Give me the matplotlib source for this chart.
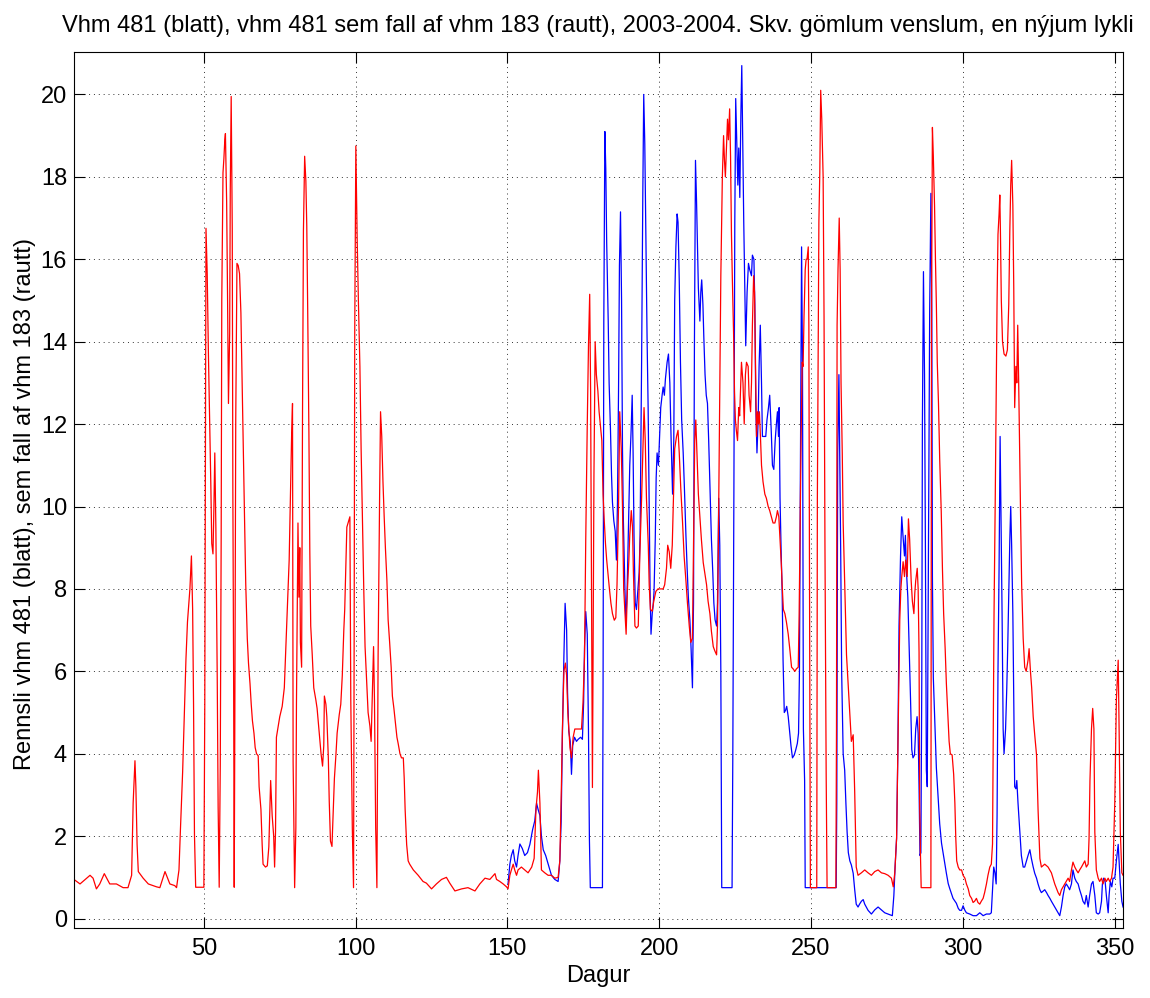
import matplotlib
matplotlib.use('Agg')
import matplotlib.pyplot as plt

plt.rcParams['font.family'] = ['Liberation Sans', 'DejaVu Sans']

# Vhm 481 sem fall af vhm 183 (rautt): (dagur, rennsli)
red_day = [7.2, 9.2, 12.5, 13.5, 14.6, 15.7, 17.2, 19.0, 21.2, 23.4, 25.0, 26.2, 26.7, 27.3, 27.6, 28.0, 28.4,
           30.0, 31.7, 34.4, 35.5, 37.2, 38.8, 40.4, 41.0, 41.8, 42.3, 43.0, 43.5, 44.1, 44.6, 45.4, 45.9, 46.3,
           46.6, 46.9, 47.3, 50.0, 50.3, 50.7, 51.1, 51.5, 52.0, 52.3, 52.6, 53.0, 53.3, 53.6, 53.95, 54.4, 54.7,
           55.05, 55.4, 55.7, 55.9, 56.3, 56.6, 56.9, 57.1, 57.5, 57.8, 58.1, 58.5, 58.7, 59.0, 59.35, 59.55,
           59.8, 60.0, 60.2, 60.5, 60.9, 61.3, 61.75, 62.2, 62.6, 63.0, 63.4, 63.8, 64.3, 64.7, 65.2, 65.6,
           66.0, 66.5, 66.9, 67.35, 67.9, 68.2, 68.8, 69.2, 69.5, 70.3, 70.9, 71.4, 72.0, 72.5, 73.0, 73.3,
           73.6, 73.9, 74.5, 75.0, 75.8, 76.5, 77.0, 77.6, 78.1, 78.5, 78.9, 79.2, 79.4, 79.9, 80.3, 80.5,
           81.0, 81.3, 81.6, 81.8, 82.2, 82.5, 82.8, 83.2, 83.6, 83.9, 84.2, 84.6, 84.9, 85.2, 85.7, 86.2,
           86.9, 87.3, 87.8, 88.2, 88.6, 89.1, 89.5, 89.7, 90.2, 90.5, 91.0, 91.3, 91.7, 92.2, 92.6, 93.0,
           93.5, 93.9, 94.6, 95.1, 95.6, 96.1, 96.4, 96.8, 97.1, 97.5, 98.1, 98.4, 98.9, 99.3, 99.5, 99.7,
           100.06, 100.5, 100.9, 101.4, 101.8, 102.3, 102.7, 103.1, 103.6, 104.1, 104.7, 105.1, 105.5, 105.9,
           106.2, 106.6, 107.0, 107.4, 107.9, 108.2, 108.6, 109.0, 109.4, 109.8, 110.3, 110.7, 111.2, 111.7,
           112.1, 112.6, 113.1, 113.6, 114.0, 114.6, 115.1, 115.7, 116.0, 116.3, 116.8, 117.3, 117.8, 119.0,
           120.6, 122.2, 123.3, 125.0, 126.6, 128.3, 129.9, 131.0, 132.7, 134.9, 137.0, 139.3, 140.9, 142.6,
           144.2, 145.9, 146.4, 147.5, 148.6, 149.7, 150.2, 150.8, 151.3, 151.9, 152.4, 153.0, 153.5, 154.6,
           155.7, 156.8, 158.0, 158.8, 159.4, 159.9, 160.2, 160.7, 161.2, 162.3, 163.4, 164.5, 165.6, 166.7,
           167.26, 167.8, 168.1, 168.6, 169.1, 169.5, 169.9, 170.6, 171.1, 171.65, 172.2, 173.3, 174.4, 174.9,
           175.4, 175.8, 176.3, 176.7, 177.1, 177.4, 177.7, 178.0, 178.5, 178.9, 179.3, 179.8, 180.2, 180.6,
           181.1, 181.5, 181.9, 182.3, 182.7, 183.2, 183.6, 184.1, 184.6, 185.2, 185.7, 186.1, 186.6, 187.0,
           187.5, 187.9, 188.3, 188.8, 189.1, 189.5, 190.0, 190.3, 190.8, 191.2, 191.5, 192.0, 192.5, 193.1,
           193.6, 194.2, 194.7, 195.0, 195.4, 195.8, 196.4, 196.7, 197.1, 197.7, 198.2, 198.9, 199.6, 200.4,
           201.3, 201.8, 202.4, 202.8, 203.3, 203.8, 204.3, 204.7, 205.1, 205.7, 206.2, 206.6, 207.1, 207.7,
           208.2, 208.8, 209.3, 209.9, 210.4, 210.95, 211.4, 211.7, 212.05, 212.5, 212.9, 213.4, 213.9, 214.5,
           215.0, 215.6, 216.1, 216.7, 217.2, 217.8, 218.3, 218.9, 219.2, 219.5, 219.85, 220.3, 220.8, 221.2,
           221.5, 221.8, 222.2, 222.5, 222.8, 223.2, 223.5, 223.8, 224.1, 224.5, 224.8, 225.1, 225.4, 225.8,
           226.2, 226.5, 227.1, 227.6, 228.0, 228.4, 228.75, 229.3, 229.6, 230.1, 230.4, 230.7, 231.1, 231.4,
           231.7, 232.05, 232.4, 232.7, 233.0, 233.4, 233.7, 234.2, 234.8, 235.3, 235.9, 236.4, 236.95, 237.5,
           238.1, 238.6, 238.95, 239.4, 239.8, 240.2, 240.5, 240.9, 241.4, 241.9, 242.5, 243.0, 243.6, 244.1,
           244.7, 245.2, 245.8, 246.1, 246.4, 246.75, 247.1, 247.4, 247.7, 248.1, 248.4, 248.7, 249.1, 249.3,
           249.5, 249.8, 251.9, 252.1, 252.6, 252.9, 253.2, 253.55, 254.0, 254.3, 254.6, 255.0, 255.3, 258.2,
           258.4, 258.6, 258.9, 259.3, 259.6, 259.9, 260.3, 260.6, 261.0, 261.3, 261.7, 262.3, 262.8, 263.3,
           263.9, 264.4, 264.9, 265.5, 266.6, 267.7, 268.8, 269.9, 271.0, 272.1, 273.2, 274.3, 275.4, 276.5,
           277.1, 277.6, 278.2, 278.6, 279.0, 279.25, 279.6, 279.9, 280.35, 280.8, 281.2, 281.7, 282.1, 282.5,
           283.0, 283.4, 283.9, 284.2, 284.5, 285.0, 285.3, 285.6, 285.8, 286.05, 286.3, 289.5, 289.7, 290.0,
           290.3, 290.7, 291.0, 291.3, 291.6, 292.0, 292.4, 292.9, 293.3, 293.7, 294.2, 294.6, 295.1, 295.5,
           295.9, 296.5, 297.0, 297.4, 297.7, 298.0, 298.5, 299.0, 299.6, 300.1, 300.7, 301.2, 301.8, 302.3,
           302.9, 303.4, 303.9, 304.5, 305.0, 305.6, 306.1, 306.7, 307.2, 307.8, 308.3, 308.9, 309.4, 309.8,
           310.0, 310.3, 310.7, 311.0, 311.3, 311.6, 311.96, 312.2, 312.4, 312.7, 313.1, 313.6, 314.2, 314.7,
           315.15, 315.5, 315.8, 316.1, 316.5, 316.8, 317.1, 317.5, 317.8, 318.1, 318.4, 318.8, 319.1, 319.4,
           319.9, 320.4, 320.9, 321.5, 321.85, 322.3, 322.7, 323.2, 323.7, 324.3, 324.8, 325.4, 325.9, 327.0,
           328.1, 329.2, 330.3, 331.4, 331.95, 332.5, 333.6, 334.7, 335.2, 335.8, 336.3, 336.9, 337.4, 338.0,
           338.5, 339.1, 339.6, 340.2, 340.7, 341.3, 341.6, 341.9, 342.4, 342.8, 343.2, 343.5, 344.0, 344.6,
           345.1, 345.7, 346.2, 346.8, 347.3, 347.9, 348.4, 349.0, 349.5, 350.07, 350.6, 351.2, 351.5, 351.9,
           352.4, 352.8]
red_q = [0.95, 0.84, 1.05, 0.98, 0.72, 0.84, 1.09, 0.84, 0.84, 0.75, 0.75, 1.05, 2.8, 3.83, 3.2, 1.8, 1.14,
         0.98, 0.84, 0.77, 0.75, 1.14, 0.84, 0.8, 0.75, 1.18, 2.2, 3.55, 4.8, 6.3, 7.2, 8.0, 8.8, 7.5,
         5.2, 2.05, 0.76, 0.76, 5.2, 16.75, 15.65, 13.7, 11.7, 10.5, 9.1, 8.85, 9.95, 11.3, 9.5, 5.85, 2.7,
         0.76, 3.7, 9.25, 15.0, 18.1, 18.45, 18.9, 19.05, 17.4, 15.1, 12.5, 14.2, 17.7, 19.95, 16.75, 10.35,
         5.85, 0.76, 4.9, 12.1, 15.9, 15.85, 15.65, 14.7, 13.0, 11.3, 9.7, 8.1, 6.8, 6.2, 5.7, 5.2,
         4.8, 4.5, 4.15, 4.0, 3.95, 3.2, 2.65, 1.8, 1.32, 1.25, 1.28, 1.74, 3.35, 2.5, 2.0, 1.25,
         2.1, 4.4, 4.67, 4.9, 5.15, 5.6, 6.55, 7.7, 8.7, 10.2, 11.7, 12.5, 3.8, 0.75, 2.2, 5.2,
         9.6, 7.8, 9.0, 6.7, 6.1, 12.3, 16.7, 18.5, 17.9, 16.8, 14.8, 11.8, 8.9, 7.1, 6.4, 5.6,
         5.3, 5.1, 4.67, 4.3, 4.0, 3.7, 4.2, 5.4, 5.2, 4.9, 3.9, 2.85, 1.88, 1.75, 2.6, 3.4,
         3.97, 4.5, 4.95, 5.2, 5.9, 7.0, 7.5, 8.6, 9.5, 9.6, 9.75, 5.3, 2.2, 0.75, 6.55, 14.2,
         18.75, 16.5, 15.0, 13.4, 11.4, 9.5, 7.9, 6.6, 5.8, 5.0, 4.67, 4.3, 5.4, 6.6,
         5.3, 2.2, 0.75, 6.4, 10.3, 12.3, 11.7, 10.6, 9.75, 9.0, 8.2, 7.25, 6.7, 6.1,
         5.4, 5.1, 4.74, 4.4, 4.25, 4.0, 3.9, 3.9, 3.4, 2.65, 1.8, 1.4, 1.32, 1.18,
         1.05, 0.9, 0.86, 0.72, 0.84, 0.95, 1.0, 0.86, 0.67, 0.72, 0.75, 0.67, 0.84, 0.98,
         0.95, 1.09, 0.95, 0.9, 0.84, 0.77, 0.72, 1.05, 1.18, 1.32, 1.18, 1.05, 1.18, 1.25,
         1.18, 1.11, 1.25, 1.46, 2.65, 3.07, 3.6, 2.8, 1.18, 1.11, 1.05, 1.05, 0.98, 1.0,
         1.4, 3.3, 4.55, 6.0, 6.2, 5.9, 5.0, 4.15, 3.9, 4.4, 4.6, 4.6, 4.6, 5.25,
         6.35, 9.2, 12.0, 13.9, 15.15, 12.8, 7.86, 3.18, 10.75, 14.0, 13.2, 12.8, 12.3, 12.0,
         11.6, 10.3, 9.65, 9.1, 8.7, 8.3, 8.0, 7.65, 7.4, 7.24, 7.3, 8.1, 10.0, 12.3,
         11.4, 10.0, 8.0, 7.3, 6.9, 7.94, 8.7, 9.3, 9.9, 9.5, 8.4, 7.1, 7.05, 7.1,
         8.8, 10.2, 11.6, 12.4, 11.6, 10.2, 9.06, 8.1, 7.5, 7.46, 7.7, 7.94, 8.0, 8.0,
         8.0, 8.1, 8.5, 9.06, 8.9, 8.5, 9.06, 10.2, 11.4, 11.7, 11.85, 11.3, 10.45, 9.6,
         8.8, 8.2, 7.66, 7.1, 6.7, 6.8, 9.75, 11.6, 12.1, 11.15, 10.3, 9.75, 9.2, 8.64,
         8.4, 8.1, 7.7, 7.4, 6.97, 6.6, 6.5, 6.4, 7.1, 9.2, 12.1, 15.6, 18.0, 19.0,
         18.4, 18.0, 18.8, 19.4, 18.9, 19.65, 18.5, 16.6, 15.5, 14.2, 12.8, 12.1, 11.85, 11.6,
         12.4, 12.2, 13.5, 13.0, 12.0, 13.2, 13.5, 13.4, 12.7, 12.3, 13.0, 14.4, 15.6, 15.2,
         13.5, 11.7, 12.3, 12.0, 12.3, 11.6, 11.0, 10.6, 10.3, 10.2, 10.0, 9.9, 9.75, 9.6,
         9.6, 9.75, 9.9, 9.75, 9.2, 8.64, 8.1, 7.5, 7.4, 7.2, 6.9, 6.55, 6.1, 6.06,
         6.0, 6.06, 6.1, 7.4, 9.3, 11.7, 13.5, 13.4, 14.6, 15.75, 16.0, 16.0, 16.3, 14.4,
         8.5, 0.75, 0.75, 10.2, 16.9, 18.1, 20.1, 19.4, 18.0, 14.6, 9.06, 3.5, 0.75, 0.75,
         4.6, 14.4, 15.75, 17.0, 15.75, 13.0, 11.3, 9.6, 8.4, 7.4, 6.4, 5.6, 4.95, 4.3,
         4.46, 3.07, 1.25, 1.05, 1.11, 1.18, 1.11, 1.05, 1.14, 1.18, 1.11, 1.09, 1.05, 0.98,
         0.77, 1.11, 1.95, 3.9, 6.0, 7.25, 8.0, 8.3, 8.66, 8.3, 8.7, 8.3, 9.7, 9.2,
         8.2, 7.7, 7.4, 7.9, 8.2, 8.5, 8.0, 6.46, 2.8, 1.6, 0.75, 0.75, 14.6, 19.2,
         18.5, 17.3, 16.0, 14.9, 13.5, 12.5, 11.15, 9.9, 8.5, 7.4, 6.55, 5.7, 4.9, 4.3,
         4.0, 3.97, 3.5, 2.8, 1.95, 1.4, 1.25, 1.18, 1.18, 1.05, 0.98, 0.84, 0.72, 0.56,
         0.49, 0.39, 0.42, 0.49, 0.39, 0.35, 0.42, 0.49, 0.63, 0.84, 1.05, 1.25, 1.32, 1.81,
         3.9, 7.4, 10.2, 12.7, 15.0, 16.6, 17.1, 17.56, 16.7, 15.0, 14.0, 13.7, 13.65, 13.8,
         14.9, 16.7, 17.8, 18.4, 17.3, 15.3, 12.4, 13.4, 13.0, 14.4, 13.1, 11.0, 9.5, 8.1,
         6.8, 6.1, 6.0, 6.27, 6.55, 6.0, 5.6, 4.9, 4.46, 3.97, 2.65, 1.46, 1.25, 1.32,
         1.25, 1.11, 0.84, 0.63, 0.56, 0.7, 0.84, 0.98, 0.9, 1.18, 1.37, 1.25, 1.18, 1.11,
         1.18, 1.25, 1.32, 1.4, 1.25, 1.32, 1.95, 3.35, 4.6, 5.1, 4.6, 2.1, 1.18, 0.98,
         0.9, 0.98, 0.84, 0.98, 0.9, 0.98, 0.9, 0.98, 1.25, 2.8, 5.3, 6.27, 4.6, 2.1,
         1.11, 1.05]

# Vhm 481 (blatt): (dagur, rennsli)
blue_day = [150.2, 150.8, 151.3, 151.9, 152.4, 153.0, 153.5, 154.1, 154.9, 155.7, 156.6, 157.4, 158.3, 159.0,
            159.6, 160.1, 160.7, 161.2, 161.8, 162.6, 163.7, 164.5, 165.6, 166.7, 167.26, 167.7, 168.1, 168.6,
            169.0, 169.5, 169.8, 170.2, 170.7, 171.1, 171.5, 172.1, 172.75, 173.3, 174.1, 174.7, 175.1, 175.4,
            175.8, 176.3, 176.7, 177.0, 177.3, 181.3, 181.5, 181.75, 182.1, 182.4, 182.7, 183.2, 183.5, 183.95,
            184.3, 184.6, 185.05, 185.5, 185.9, 186.25, 186.6, 186.9, 187.25, 187.6, 187.9, 188.2, 188.7, 189.0,
            189.4, 189.9, 190.3, 190.75, 191.1, 191.4, 191.7, 192.1, 192.5, 192.95, 193.4, 193.7, 194.2, 194.6,
            194.9, 195.25, 195.6, 196.0, 196.35, 196.7, 197.0, 197.3, 197.7, 198.0, 198.3, 198.7, 199.0, 199.3,
            199.75, 200.2, 200.5, 200.95, 201.3, 201.7, 202.05, 202.6, 203.05, 203.5, 203.9, 204.4, 204.8, 205.1,
            205.5, 205.9, 206.2, 206.6, 207.0, 207.4, 207.9, 208.3, 208.8, 209.2, 209.6, 210.1, 210.5, 210.95,
            211.3, 211.6, 211.95, 212.3, 212.6, 212.9, 213.4, 213.7, 214.0, 214.4, 214.7, 215.1, 215.5, 215.9,
            216.3, 216.8, 217.2, 217.65, 218.0, 218.4, 218.9, 219.2, 219.6, 219.95, 220.3, 220.6, 224.0, 224.25,
            224.6, 224.9, 225.2, 225.55, 225.9, 226.2, 226.55, 226.9, 227.2, 227.5, 227.85, 228.2, 228.5, 228.95,
            229.4, 229.8, 230.4, 230.7, 231.2, 231.5, 231.8, 232.2, 232.6, 232.9, 233.3, 233.7, 234.0, 234.5,
            235.1, 235.5, 236.0, 236.4, 236.9, 237.3, 237.75, 238.2, 238.6, 238.95, 239.3, 239.5, 239.8, 240.2,
            240.5, 240.8, 241.2, 241.6, 242.0, 242.5, 242.9, 243.4, 243.9, 244.5, 245.0, 245.5, 245.9, 246.2,
            246.5, 246.9, 247.2, 247.5, 247.9, 248.1, 258.3, 258.5, 258.8, 259.2, 259.5, 259.8, 260.1, 260.6,
            261.1, 261.5, 261.9, 262.3, 262.8, 263.3, 263.9, 264.4, 264.9, 265.5, 266.0, 266.6, 267.2, 267.7,
            268.8, 269.9, 271.0, 272.1, 273.2, 274.3, 275.4, 276.8, 277.3, 277.7, 278.2, 278.6, 279.0, 279.5,
            279.9, 280.3, 280.8, 281.1, 281.4, 281.9, 282.3, 282.8, 283.2, 283.6, 284.1, 284.5, 284.95, 285.3,
            285.6, 285.9, 286.2, 286.5, 286.7, 287.05, 287.4, 287.7, 288.0, 288.3, 288.7, 289.1, 289.5, 289.8,
            290.0, 290.3, 290.8, 291.3, 291.9, 292.4, 293.0, 293.5, 294.1, 294.6, 295.2, 295.7, 296.8, 297.9,
            298.5, 299.0, 299.6, 300.1, 300.7, 301.2, 302.3, 303.4, 304.5, 305.6, 306.1, 306.7, 307.8, 308.9,
            309.4, 309.8, 310.2, 310.6, 311.0, 311.3, 311.6, 311.96, 312.3, 312.6, 312.95, 313.3, 313.6, 314.1,
            314.5, 314.8, 315.15, 315.5, 315.8, 316.1, 316.5, 316.8, 317.1, 317.5, 317.8, 318.2, 318.8, 319.3,
            319.9, 320.4, 320.97, 321.5, 322.1, 322.6, 323.2, 323.7, 324.3, 324.8, 325.4, 325.9, 326.5, 327.0,
            327.6, 328.1, 328.7, 329.2, 329.75, 330.3, 330.85, 331.4, 331.95, 332.5, 333.05, 333.6, 334.1, 334.7,
            335.2, 335.8, 336.3, 336.9, 337.4, 338.0, 338.5, 339.1, 339.6, 340.2, 340.7, 341.3, 341.8, 342.4,
            342.9, 343.5, 344.0, 344.6, 345.1, 345.7, 346.0, 346.4, 346.9, 347.3, 347.9, 348.2, 348.6, 349.1,
            349.5, 350.07, 350.6, 351.2, 351.5, 351.9, 352.4, 352.8]
blue_q = [0.84, 1.32, 1.53, 1.67, 1.4, 1.25, 1.53, 1.81, 1.7, 1.53, 1.6, 1.8, 2.16, 2.37,
          2.8, 2.65, 2.5, 2.0, 1.67, 1.53, 1.25, 1.05, 0.95, 0.9, 1.4, 2.35, 4.4, 6.35,
          7.65, 7.0, 5.5, 4.55, 4.3, 3.5, 4.2, 4.4, 4.3, 4.35, 4.4, 4.35, 5.25, 6.6,
          7.45, 6.9, 4.55, 1.95, 0.75, 0.75, 5.4, 14.5, 19.1, 18.2, 16.4, 14.5, 13.0, 11.85,
          10.75, 10.1, 9.65, 9.4, 8.7, 10.1, 12.8, 15.85, 17.15, 15.0, 11.4, 9.65, 8.0, 7.2,
          7.86, 9.65, 11.0, 11.85, 12.7, 11.3, 9.3, 7.66, 7.5, 7.94, 8.4, 9.3, 13.5, 17.6,
          20.0, 18.8, 16.6, 14.1, 12.4, 9.9, 7.94, 6.9, 7.4, 7.6, 7.94, 9.2, 10.7, 11.3,
          11.0, 11.85, 12.4, 12.7, 12.9, 12.7, 13.1, 13.5, 13.7, 13.0, 11.7, 10.3, 11.6, 15.0,
          16.3, 17.1, 16.9, 15.5, 13.5, 12.1, 11.3, 10.45, 9.3, 8.5, 7.8, 7.25, 6.55, 5.6,
          7.66, 13.9, 18.4, 17.4, 16.3, 15.3, 14.5, 15.2, 15.5, 14.9, 14.1, 13.2, 12.7, 12.5,
          11.6, 10.3, 9.2, 8.4, 7.66, 7.25, 7.1, 7.66, 10.2, 9.06, 6.0, 0.75, 0.75, 4.0,
          10.3, 16.9, 19.9, 18.9, 17.8, 18.7, 17.5, 19.5, 20.7, 19.0, 16.9, 15.3, 13.9, 15.2,
          15.9, 15.75, 15.6, 16.1, 16.0, 14.9, 12.5, 11.3, 12.1, 13.4, 14.4, 13.0, 11.7, 11.7,
          11.7, 12.1, 12.4, 12.7, 11.85, 11.0, 10.9, 11.6, 12.0, 12.3, 11.7, 12.4, 10.2, 8.8,
          7.94, 6.27, 5.0, 5.05, 5.15, 4.9, 4.6, 4.2, 3.9, 3.97, 4.1, 4.25, 4.5, 6.0,
          10.7, 16.3, 13.5, 4.6, 3.35, 0.75, 0.75, 2.8, 11.3, 13.2, 11.0, 8.8, 6.0, 4.0,
          3.6, 2.8, 2.1, 1.6, 1.4, 1.3, 1.1, 0.7, 0.35, 0.28, 0.35, 0.42, 0.46, 0.35,
          0.2, 0.11, 0.21, 0.28, 0.21, 0.14, 0.11, 0.07, 0.56, 1.25, 1.95, 4.0, 7.1, 8.8,
          9.75, 9.3, 8.8, 9.3, 8.5, 7.8, 6.7, 5.3, 4.1, 3.9, 3.97, 4.6, 4.9, 4.5,
          3.2, 1.53, 1.6, 5.85, 12.0, 15.7, 13.2, 8.9, 3.6, 3.2, 9.0, 14.75, 17.6, 14.75,
          8.3, 5.85, 4.75, 3.66, 2.9, 2.3, 1.83, 1.6, 1.34, 1.1, 0.85, 0.73, 0.49, 0.37,
          0.25, 0.2, 0.2, 0.31, 0.2, 0.14, 0.11, 0.07, 0.07, 0.14, 0.11, 0.07, 0.11, 0.11,
          0.14, 0.7, 1.25, 1.11, 0.84, 2.5, 6.0, 8.5, 11.7, 9.75, 7.4, 4.6, 4.0, 4.6,
          5.6, 6.55, 7.94, 9.2, 10.0, 9.06, 7.4, 5.3, 3.2, 3.15, 3.35, 2.8, 2.1, 1.53,
          1.25, 1.25, 1.4, 1.53, 1.67, 1.46, 1.25, 1.1, 0.98, 0.84, 0.7, 0.63, 0.67, 0.7,
          0.63, 0.56, 0.49, 0.42, 0.35, 0.28, 0.21, 0.14, 0.07, 0.28, 0.56, 0.77, 0.84, 0.77,
          0.7, 0.84, 1.18, 0.98, 0.9, 0.84, 0.7, 0.56, 0.42, 0.35, 0.56, 0.28, 0.56, 0.84,
          0.9, 0.56, 0.14, 0.11, 0.14, 0.42, 0.84, 0.98, 0.9, 0.56, 0.14, 0.56, 0.9, 0.77,
          0.98, 0.98, 1.4, 1.8, 1.4, 0.84, 0.42, 0.28]

x_ticks = [50, 100, 150, 200, 250, 300, 350]
y_ticks = [0, 2, 4, 6, 8, 10, 12, 14, 16, 18, 20]

fig = plt.figure(figsize=(11.5, 9.98), dpi=100)
ax = fig.add_axes([0.0643, 0.0701, 0.912, 0.8778])

ax.plot(blue_day, blue_q, color='#0000ff', linewidth=0.9)
ax.plot(red_day, red_q, color='#ff0000', linewidth=0.9)

ax.set_xlim(7.2, 352.7)
ax.set_ylim(-0.23, 21.03)
ax.set_xticks(x_ticks)
ax.set_yticks(y_ticks)

# matlab-ish grid and ticks
ax.grid(True, color='#333333', linestyle=(0, (1, 4)), linewidth=0.7)
ax.tick_params(direction='in', length=8, width=0.8, top=True, right=True, labelsize=17)
ax.tick_params(axis='x', pad=7.5)
ax.tick_params(axis='y', pad=5)
for s in ax.spines.values():
    s.set_linewidth(0.8)

ax.set_title('Vhm 481 (blatt), vhm 481 sem fall af vhm 183 (rautt), 2003-2004. Skv. gömlum venslum, en nýjum lykli',
             fontsize=17, pad=14.4)
ax.set_xlabel('Dagur', fontsize=17, labelpad=3)
ax.set_ylabel('Rennsli vhm 481 (blatt), sem fall af vhm 183 (rautt)', fontsize=17)
ax.yaxis.set_label_coords(-0.036, 0.484)

fig.savefig('out.png', dpi=100)
